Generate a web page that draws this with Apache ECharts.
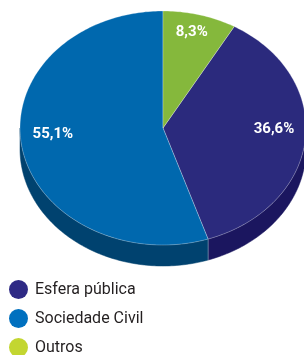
<!DOCTYPE html>
<html>
<head>
<meta charset="utf-8">
<script src="https://cdn.jsdelivr.net/npm/echarts@6/dist/echarts.min.js"></script>
<style>
  html, body { margin: 0; padding: 0; background: #fff; }
  #chart { width: 304px; height: 355px; }
</style>
</head>
<body>
<div id="chart"></div>
<script>
// dados
const categories = ['Esfera pública', 'Sociedade Civil', 'Outros'];
const values = [36.6, 55.1, 8.3];
const labels = ['36,6%', '55,1%', '8,3%'];

// ordem das fatias no sentido horário a partir do topo
const sliceOrder = [2, 0, 1];

const topColors = ['#2b2a7d', '#0068ae', '#85b83c'];
const sideColors = ['#1b165f', '#00426f', '#5a8a22'];
const legendColors = ['#2e2a85', '#0070bf', '#c3d631'];

const chart = echarts.init(document.getElementById('chart'));

// geometria da pizza em perspectiva
const cx = 163, cy = 128, rx = 143, ry = 117, depth = 21;
const total = values.reduce((a, b) => a + b, 0);

const pt = (deg, dy) => {
  const r = deg * Math.PI / 180;
  return [cx + rx * Math.sin(r), cy - ry * Math.cos(r) + (dy || 0)];
};

const sliceAngles = (idx) => {
  let start = 0;
  for (const i of sliceOrder) {
    const span = values[i] / total * 360;
    if (i === idx) return [start, start + span];
    start += span;
  }
  return [0, 0];
};

const arcPoints = (a0, a1, dy) => {
  const pts = [];
  const n = Math.max(2, Math.ceil(a1 - a0));
  for (let k = 0; k <= n; k++) pts.push(pt(a0 + (a1 - a0) * k / n, dy));
  return pts;
};

const renderSlice = (idx) => (params, api) => {
  const [a0, a1] = sliceAngles(idx);
  const children = [];

  // lateral visível (metade inferior)
  const s0 = Math.max(a0, 90), s1 = Math.min(a1, 270);
  if (s1 > s0) {
    const upper = arcPoints(s0, s1, 0);
    const lower = arcPoints(s0, s1, depth).reverse();
    children.push({
      type: 'polygon',
      shape: { points: upper.concat(lower) },
      style: { fill: sideColors[idx], stroke: sideColors[idx], lineWidth: 0.5 }
    });
    [s0, s1].forEach((a) => {
      if (a > 90 && a < 270) {
        children.push({
          type: 'line',
          shape: { x1: pt(a)[0], y1: pt(a)[1], x2: pt(a, depth)[0], y2: pt(a, depth)[1] },
          style: { stroke: 'rgba(255,255,255,0.35)', lineWidth: 0.8 }
        });
      }
    });
  }

  // face superior
  children.push({
    type: 'polygon',
    shape: { points: [[cx, cy]].concat(arcPoints(a0, a1, 0)) },
    style: { fill: topColors[idx], stroke: 'rgba(255,255,255,0.45)', lineWidth: 0.6 }
  });

  // rótulo
  const mid = (a0 + a1) / 2;
  const r = mid * Math.PI / 180;
  children.push({
    type: 'text',
    style: {
      x: cx + rx * 0.78 * Math.sin(r),
      y: cy - ry * 0.78 * Math.cos(r) - 8,
      text: labels[idx],
      fill: '#ffffff',
      font: 'bold 15px Roboto',
      align: 'center',
      verticalAlign: 'middle'
    }
  });

  return { type: 'group', children };
};

const series = categories.map((name, i) => ({
  name,
  type: 'custom',
  coordinateSystem: 'none',
  renderItem: renderSlice(i),
  itemStyle: { color: legendColors[i] },
  data: [values[i]],
  silent: true,
  animation: false
}));

const option = {
  legend: {
    orient: 'vertical',
    left: 4,
    top: 275,
    height: 120,
    icon: 'circle',
    itemWidth: 19,
    itemHeight: 19,
    itemGap: 10,
    data: categories,
    textStyle: { fontSize: 16, color: '#231f20', fontFamily: 'Roboto', padding: [0, 0, 0, 2] }
  },
  series
};

chart.setOption(option);
</script>
</body>
</html>
